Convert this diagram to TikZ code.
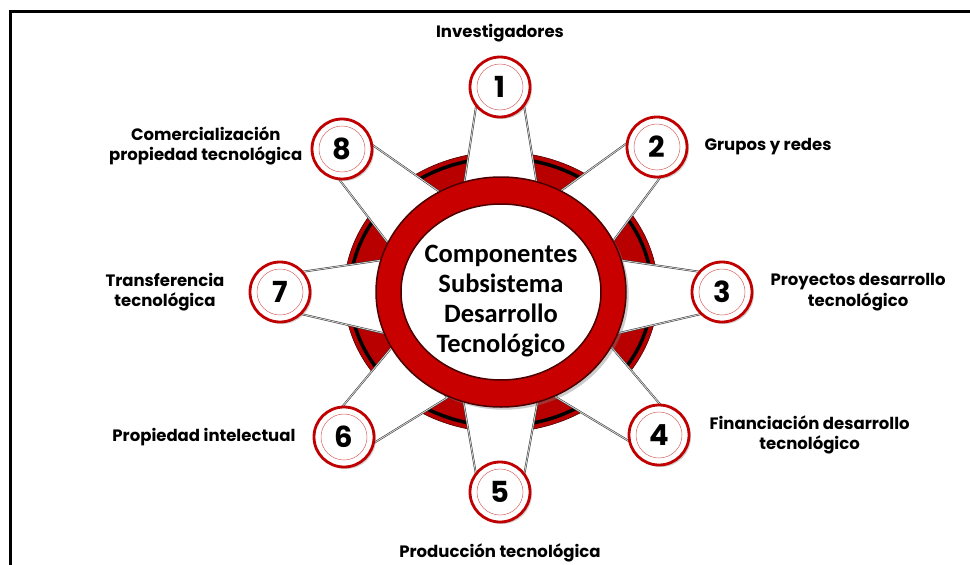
\documentclass[tikz,border=0pt]{standalone}
\usepackage{fontspec}
\setmainfont{Poppins}
\newfontfamily\hubfont{Carlito}
\usetikzlibrary{
    calc,
    positioning,
    shadows
}
\definecolor{diskred}{HTML}{B80000}
\definecolor{ringred}{HTML}{C80000}
\definecolor{ringdark}{HTML}{4A0000}
\definecolor{numred}{HTML}{C00000}
\pgfdeclarelayer{back}
\pgfdeclarelayer{mid}
\pgfsetlayers{back,mid,main}

\begin{document}
\begin{tikzpicture}[
    x=1pt, y=-1pt,
    numnode/.style   = {circle, draw=numred, line width=2.8pt, fill=white,
                        minimum size=60pt, inner sep=0pt,
                        font=\bfseries\fontsize{29}{29}\selectfont,
                        drop shadow={opacity=0.35, shadow xshift=2pt, shadow yshift=-2pt},
                        path picture={\draw[numred!60, line width=0.5pt]
                            (path picture bounding box.center) circle (23pt);}},
    labelnode/.style = {inner sep=0pt, align=center,
                        font=\bfseries\fontsize{16.5}{20.5}\selectfont},
    spoke/.style     = {fill=white, draw=gray!40!black, line width=0.5pt,
                        double=gray!35, double distance=0.9pt},
]
    \useasboundingbox (0,0) rectangle (970,565);
    \draw[line width=3pt] (10,565) -- (10,11) -- (970,11);

    %Hub
    \coordinate (c) at (501,292);
    \begin{pgfonlayer}{back}
        \fill[diskred] (c) ellipse [x radius=157pt, y radius=140pt];
        \draw[black, line width=3.5pt] (c) ellipse [x radius=151pt, y radius=134pt];
        \draw[ringdark, line width=0.6pt] (c) ellipse [x radius=157pt, y radius=140pt];
    \end{pgfonlayer}
    \fill[ringred, drop shadow={opacity=0.4}] (c) ellipse [x radius=125pt, y radius=115pt];
    \draw[ringdark, line width=1.5pt] (c) ellipse [x radius=125pt, y radius=115pt];
    \fill[white] (c) ellipse [x radius=100pt, y radius=88pt];
    \draw[ringdark, line width=1.5pt] (c) ellipse [x radius=100pt, y radius=88pt];
    \node[font=\hubfont\bfseries\fontsize{26.5}{30}\selectfont, align=center]
        (hub) at (501,301) {Componentes\\Subsistema\\Desarrollo\\Tecnológico};

    %Nodes
    \node[numnode]   (n1) at (500,87)  {1};
    \node[numnode]   (n2) at (657,147) {2};
    \node[numnode]   (n3) at (722,292) {3};
    \node[numnode]   (n4) at (659,435) {4};
    \node[numnode]   (n5) at (500,492) {5};
    \node[numnode]   (n6) at (344,437) {6};
    \node[numnode]   (n7) at (280,292) {7};
    \node[numnode]   (n8) at (342,149) {8};

    \node[labelnode] (investigadores) [above=13pt of n1]  {Investigadores};
    \node[labelnode] (grupos)         [right=16pt of n2]  {Grupos y redes};
    \node[labelnode] (proyectos)      [right=17pt of n3]  {Proyectos desarrollo\\tecnológico};
    \node[labelnode] (financiacion)   [right=19pt of n4]  {Financiación desarrollo\\tecnológico};
    \node[labelnode] (produccion)     [below=20pt of n5]  {Producción tecnológica};
    \node[labelnode] (propiedad)      [left=17pt of n6]   {Propiedad intelectual};
    \node[labelnode] (transferencia)  [left=24pt of n7]   {Transferencia\\tecnológica};
    \node[labelnode] (comercial)      [left=8pt of n8, yshift=3pt] {Comercialización\\propiedad tecnológica};

    %Spokes
    \begin{pgfonlayer}{mid}
        \draw[spoke] ($(hub)!0.5!(n1)!38pt!90:(n1)$) -- ($(n1)!21pt!-90:(hub)$)
                  -- ($(n1)!21pt!90:(hub)$) -- ($(hub)!0.5!(n1)!38pt!-90:(n1)$) -- cycle;
        \draw[spoke] ($(hub)!0.5!(n2)!38pt!90:(n2)$) -- ($(n2)!21pt!-90:(hub)$)
                  -- ($(n2)!21pt!90:(hub)$) -- ($(hub)!0.5!(n2)!38pt!-90:(n2)$) -- cycle;
        \draw[spoke] ($(hub)!0.5!(n3)!38pt!90:(n3)$) -- ($(n3)!17pt!-90:(hub)$)
                  -- ($(n3)!17pt!90:(hub)$) -- ($(hub)!0.5!(n3)!38pt!-90:(n3)$) -- cycle;
        \draw[spoke] ($(hub)!0.5!(n4)!38pt!90:(n4)$) -- ($(n4)!21pt!-90:(hub)$)
                  -- ($(n4)!21pt!90:(hub)$) -- ($(hub)!0.5!(n4)!38pt!-90:(n4)$) -- cycle;
        \draw[spoke] ($(hub)!0.5!(n5)!38pt!90:(n5)$) -- ($(n5)!21pt!-90:(hub)$)
                  -- ($(n5)!21pt!90:(hub)$) -- ($(hub)!0.5!(n5)!38pt!-90:(n5)$) -- cycle;
        \draw[spoke] ($(hub)!0.5!(n6)!38pt!90:(n6)$) -- ($(n6)!21pt!-90:(hub)$)
                  -- ($(n6)!21pt!90:(hub)$) -- ($(hub)!0.5!(n6)!38pt!-90:(n6)$) -- cycle;
        \draw[spoke] ($(hub)!0.5!(n7)!38pt!90:(n7)$) -- ($(n7)!17pt!-90:(hub)$)
                  -- ($(n7)!17pt!90:(hub)$) -- ($(hub)!0.5!(n7)!38pt!-90:(n7)$) -- cycle;
        \draw[spoke] ($(hub)!0.5!(n8)!38pt!90:(n8)$) -- ($(n8)!21pt!-90:(hub)$)
                  -- ($(n8)!21pt!90:(hub)$) -- ($(hub)!0.5!(n8)!38pt!-90:(n8)$) -- cycle;
    \end{pgfonlayer}
\end{tikzpicture}
\end{document}
